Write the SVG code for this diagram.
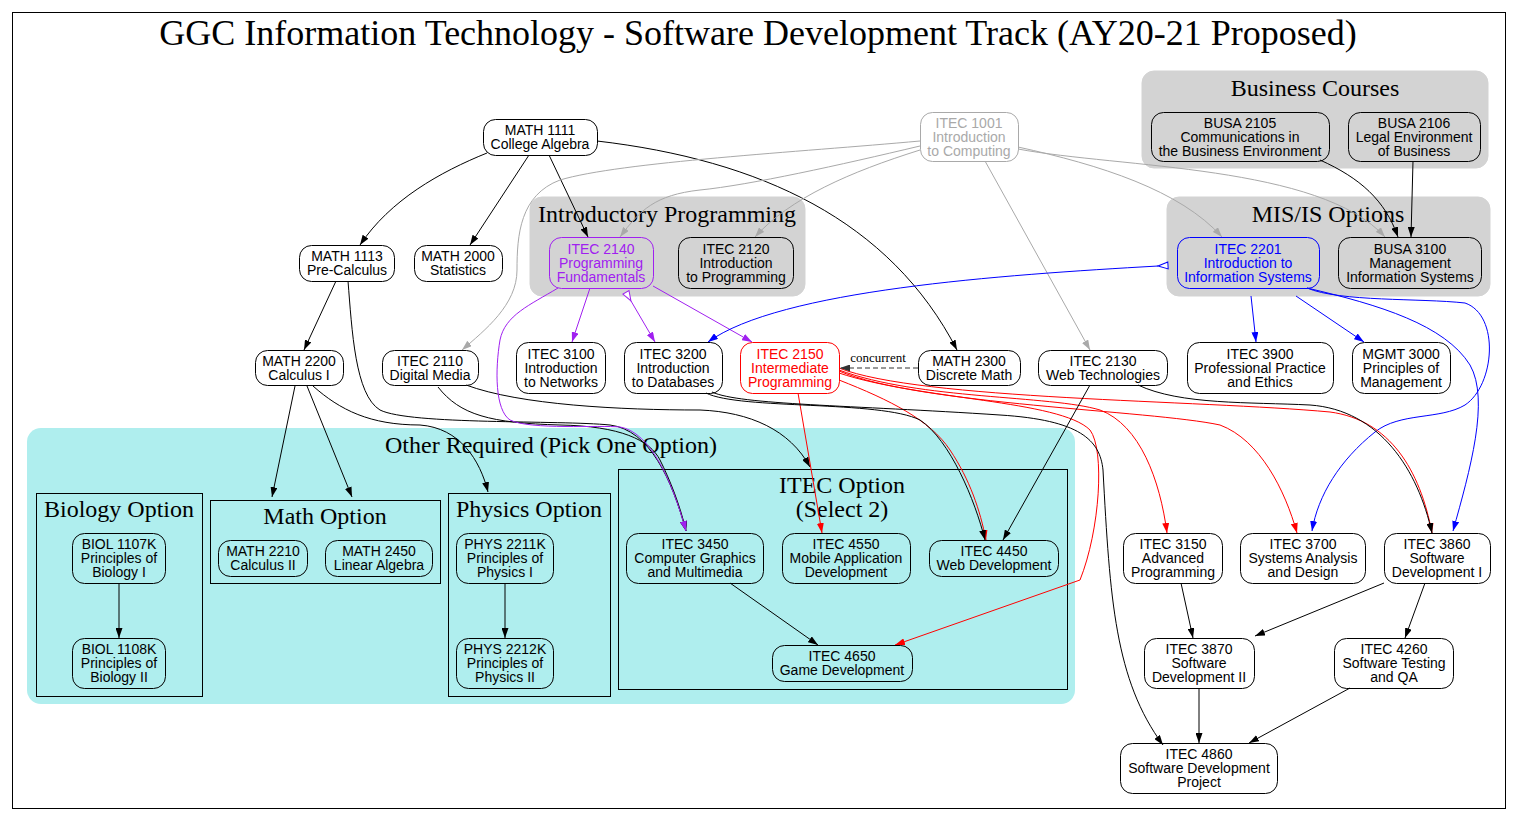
<svg xmlns="http://www.w3.org/2000/svg" width="1518" height="821" viewBox="0 0 1518 821">
<style>
.nt{font-family:"Liberation Sans",Arial,sans-serif;font-size:14px;text-anchor:middle;fill:#000}
.ct{font-family:"Liberation Serif","Times New Roman",serif;font-size:24px;text-anchor:middle;fill:#000}
.nb{fill:none;stroke:#000;stroke-width:1}
.gc{fill:#d3d3d3;stroke:#d3d3d3}
.sub{fill:none;stroke:#000;stroke-width:1}
.e{fill:none;stroke-width:1}
.k{stroke:#000;marker-end:url(#ak)}
.g{stroke:#a9a9a9;marker-end:url(#ag)}
.p{stroke:#a020f0;marker-end:url(#ap)}
.b{stroke:#0000ff;marker-end:url(#ab)}
.r{stroke:#ff0000;marker-end:url(#ar)}
</style>
<defs>
<marker id="ak" viewBox="0 0 10 7" refX="10" refY="3.5" markerWidth="10" markerHeight="7" markerUnits="userSpaceOnUse" orient="auto"><path d="M0,0 L10,3.5 L0,7 z" fill="#000"/></marker>
<marker id="ag" viewBox="0 0 10 7" refX="10" refY="3.5" markerWidth="10" markerHeight="7" markerUnits="userSpaceOnUse" orient="auto"><path d="M0,0 L10,3.5 L0,7 z" fill="#a9a9a9"/></marker>
<marker id="ap" viewBox="0 0 10 7" refX="10" refY="3.5" markerWidth="10" markerHeight="7" markerUnits="userSpaceOnUse" orient="auto"><path d="M0,0 L10,3.5 L0,7 z" fill="#a020f0"/></marker>
<marker id="ab" viewBox="0 0 10 7" refX="10" refY="3.5" markerWidth="10" markerHeight="7" markerUnits="userSpaceOnUse" orient="auto"><path d="M0,0 L10,3.5 L0,7 z" fill="#0000ff"/></marker>
<marker id="ar" viewBox="0 0 10 7" refX="10" refY="3.5" markerWidth="10" markerHeight="7" markerUnits="userSpaceOnUse" orient="auto"><path d="M0,0 L10,3.5 L0,7 z" fill="#ff0000"/></marker>
<marker id="ad" viewBox="0 0 10 7" refX="10" refY="3.5" markerWidth="10" markerHeight="7" markerUnits="userSpaceOnUse" orient="auto"><path d="M0,0 L10,3.5 L0,7 z" fill="#333"/></marker>
<marker id="hp" viewBox="-11 -4 12 8" refX="0" refY="0" markerWidth="12" markerHeight="8" markerUnits="userSpaceOnUse" orient="auto" overflow="visible"><path d="M0,0 L-10,-3.5 L-10,3.5 z" fill="#fff" stroke="#a020f0"/></marker>
<marker id="hb" viewBox="-11 -4 12 8" refX="0" refY="0" markerWidth="12" markerHeight="8" markerUnits="userSpaceOnUse" orient="auto" overflow="visible"><path d="M0,0 L-10,-3.5 L-10,3.5 z" fill="#fff" stroke="#0000ff"/></marker>
</defs>
<rect x="0" y="0" width="1518" height="821" fill="#fff"/>
<rect x="12.5" y="12.5" width="1493" height="796" fill="none" stroke="#000"/>
<text x="758" y="45" font-family="'Liberation Serif','Times New Roman',serif" font-size="36" text-anchor="middle">GGC Information Technology - Software Development Track (AY20-21 Proposed)</text>

<g id="clusters">
<g id="cluster-business"><rect class="gc" x="1142" y="71" width="346" height="97" rx="12"/><text class="ct" x="1315" y="96">Business Courses</text></g>
<g id="cluster-mis"><rect class="gc" x="1167" y="197" width="323" height="99" rx="12"/><text class="ct" x="1328" y="222">MIS/IS Options</text></g>
<g id="cluster-intro"><rect class="gc" x="530" y="197" width="275" height="99" rx="12"/><text class="ct" x="667" y="222">Introductory Programming</text></g>
<g id="cluster-other"><rect x="27" y="428" width="1048" height="276" rx="14" fill="#afeeee"/><text class="ct" x="551" y="453">Other Required (Pick One Option)</text>
<g id="cluster-bio"><rect class="sub" x="36.5" y="493.5" width="166" height="203"/><text class="ct" x="119" y="517">Biology Option</text></g>
<g id="cluster-math"><rect class="sub" x="210.5" y="500.5" width="230" height="83"/><text class="ct" x="325" y="524">Math Option</text></g>
<g id="cluster-phys"><rect class="sub" x="448.5" y="493.5" width="162" height="203"/><text class="ct" x="529" y="517">Physics Option</text></g>
<g id="cluster-itec"><rect class="sub" x="618.5" y="469.5" width="449" height="220"/><text class="ct" x="842" y="493">ITEC Option</text><text class="ct" x="842" y="517">(Select 2)</text></g>
</g>
</g>

<g id="connectors">
<path class="e k" d="M487,153 C440,172 390,200 360,245"/>
<path class="e k" d="M529,155 L470,245"/>
<path class="e k" d="M549,155 L588,237"/>
<path class="e k" d="M597,141 C760,160 890,220 957,350"/>
<path class="e g" d="M920,141 C800,152 620,162 560,180 C520,195 517,235 517,270 C517,305 485,330 462,350"/>
<path class="e g" d="M920,146 C840,165 750,185 700,190 C655,195 640,210 620,237"/>
<path class="e g" d="M920,150 C850,172 790,198 755,237"/>
<path class="e g" d="M985,161 L1090,350"/>
<path class="e g" d="M1018,147 C1100,165 1180,190 1222,237"/>
<path class="e g" d="M1018,149 C1120,168 1320,165 1385,237"/>
<path class="e k" d="M1320,160 C1360,178 1385,200 1398,237"/>
<path class="e k" d="M1413,161 L1411,237"/>
<path class="e k" d="M336,281 L304,350"/>
<path class="e k" d="M348,281 C352,330 355,395 380,410 C410,425 560,420 610,425 C650,430 672,480 686,531"/>
<path class="e k" d="M295,386 L272,497"/>
<path class="e k" d="M307,386 L352,497"/>
<path class="e k" d="M313,386 C340,410 370,425 420,425 C460,428 480,460 488,492"/>
<path class="e k" d="M438,387 C460,415 490,423 560,425 C620,426 650,440 660,460 C670,480 680,505 686,531"/>
<path class="e k" d="M466,385 C520,405 620,410 700,410 C750,412 790,430 810,467"/>
<path class="e p" d="M590,288 L572,342"/>
<path class="e p" d="M631,301 L655,342" marker-start="url(#hp)"/>
<path class="e p" d="M653,286 L752,342"/>
<path class="e p" d="M558,288 C530,305 505,315 500,340 C495,370 495,410 510,420 C530,430 600,425 620,427 C650,432 672,480 686,531"/>
<path class="e b" d="M1158,266 C1000,275 780,290 708,342" marker-start="url(#hb)"/>
<path class="e b" d="M1251,296 L1256,342"/>
<path class="e b" d="M1296,296 L1364,342"/>
<path class="e b" d="M1307,288 C1340,302 1420,298 1465,303 C1500,315 1495,385 1465,405 C1440,420 1400,412 1375,432 C1340,460 1318,495 1312,531"/>
<path class="e b" d="M1307,288 C1380,305 1445,325 1470,365 C1490,400 1470,470 1453,531"/>
<path class="e r" d="M798,393 L822,533"/>
<path class="e r" d="M839,380 C890,400 930,420 950,450 C970,480 980,510 986,540"/>
<path class="e r" d="M839,370 C920,400 1050,395 1100,410 C1140,425 1160,480 1167,533"/>
<path class="e r" d="M839,371 C920,405 1150,410 1220,425 C1260,440 1285,490 1297,533"/>
<path class="e r" d="M839,368 C920,400 1200,400 1330,412 C1390,420 1420,470 1432,533"/>
<path class="e r" d="M839,373 C920,400 1060,400 1090,430 C1105,450 1100,530 1080,580 L895,645"/>
<path class="e" stroke="#333" stroke-dasharray="5,3" marker-end="url(#ad)" d="M918,368 L840,368"/>
<text x="878" y="362" font-family="'Liberation Serif','Times New Roman',serif" font-size="13" text-anchor="middle">concurrent</text>
<path class="e k" d="M1090,385 L1003,540"/>
<path class="e k" d="M1138,385 C1180,405 1250,402 1310,405 C1380,410 1418,470 1432,533"/>
<path class="e k" d="M706,393 C740,410 880,400 920,420 C950,440 975,500 985,540"/>
<path class="e k" d="M712,392 C740,405 850,405 1000,415 C1080,420 1100,440 1103,470 C1110,600 1115,680 1163,745"/>
<path class="e k" d="M730,583 L818,645"/>
<path class="e k" d="M119,583 L119,638"/>
<path class="e k" d="M505,583 L505,638"/>
<path class="e k" d="M1181,583 L1193,638"/>
<path class="e k" d="M1384,583 L1255,636"/>
<path class="e k" d="M1425,583 L1405,638"/>
<path class="e k" d="M1199,688 L1199,743"/>
<path class="e k" d="M1350,688 L1249,743"/>
</g>

<g id="n-math1111"><rect class="nb" x="483.5" y="119.5" width="114" height="36" rx="12"/><text class="nt" x="540" y="135">MATH 1111</text><text class="nt" x="540" y="149">College Algebra</text></g>
<g id="n-itec1001"><rect x="920.5" y="112.5" width="98" height="49" rx="12" fill="none" stroke="#a9a9a9"/><text class="nt" x="969" y="128" style="fill:#a9a9a9">ITEC 1001</text><text class="nt" x="969" y="142" style="fill:#a9a9a9">Introduction</text><text class="nt" x="969" y="156" style="fill:#a9a9a9">to Computing</text></g>
<g id="n-busa2105"><rect class="nb" x="1151.5" y="112.5" width="178" height="49" rx="12"/><text class="nt" x="1240" y="128">BUSA 2105</text><text class="nt" x="1240" y="142">Communications in</text><text class="nt" x="1240" y="156">the Business Environment</text></g>
<g id="n-busa2106"><rect class="nb" x="1348.5" y="112.5" width="132" height="49" rx="12"/><text class="nt" x="1414" y="128">BUSA 2106</text><text class="nt" x="1414" y="142">Legal Environment</text><text class="nt" x="1414" y="156">of Business</text></g>

<g id="n-math1113"><rect class="nb" x="299.5" y="245.5" width="95" height="36" rx="12"/><text class="nt" x="347" y="261">MATH 1113</text><text class="nt" x="347" y="275">Pre-Calculus</text></g>
<g id="n-math2000"><rect class="nb" x="414.5" y="245.5" width="88" height="36" rx="12"/><text class="nt" x="458" y="261">MATH 2000</text><text class="nt" x="458" y="275">Statistics</text></g>
<g id="n-itec2140"><rect x="549.5" y="237.5" width="104" height="51" rx="12" fill="none" stroke="#a020f0"/><text class="nt" x="601" y="254" style="fill:#a020f0">ITEC 2140</text><text class="nt" x="601" y="268" style="fill:#a020f0">Programming</text><text class="nt" x="601" y="282" style="fill:#a020f0">Fundamentals</text></g>
<g id="n-itec2120"><rect class="nb" x="678.5" y="237.5" width="115" height="51" rx="12"/><text class="nt" x="736" y="254">ITEC 2120</text><text class="nt" x="736" y="268">Introduction</text><text class="nt" x="736" y="282">to Programming</text></g>
<g id="n-itec2201"><rect x="1177.5" y="237.5" width="142" height="51" rx="12" fill="none" stroke="#0000ff"/><text class="nt" x="1248" y="254" style="fill:#0000ff">ITEC 2201</text><text class="nt" x="1248" y="268" style="fill:#0000ff">Introduction to</text><text class="nt" x="1248" y="282" style="fill:#0000ff">Information Systems</text></g>
<g id="n-busa3100"><rect class="nb" x="1338.5" y="237.5" width="143" height="51" rx="12"/><text class="nt" x="1410" y="254">BUSA 3100</text><text class="nt" x="1410" y="268">Management</text><text class="nt" x="1410" y="282">Information Systems</text></g>

<g id="n-math2200"><rect class="nb" x="255.5" y="350.5" width="88" height="35" rx="12"/><text class="nt" x="299" y="366">MATH 2200</text><text class="nt" x="299" y="380">Calculus I</text></g>
<g id="n-itec2110"><rect class="nb" x="382.5" y="350.5" width="96" height="35" rx="12"/><text class="nt" x="430" y="366">ITEC 2110</text><text class="nt" x="430" y="380">Digital Media</text></g>
<g id="n-itec3100"><rect class="nb" x="516.5" y="342.5" width="89" height="51" rx="12"/><text class="nt" x="561" y="359">ITEC 3100</text><text class="nt" x="561" y="373">Introduction</text><text class="nt" x="561" y="387">to Networks</text></g>
<g id="n-itec3200"><rect class="nb" x="624.5" y="342.5" width="98" height="51" rx="12"/><text class="nt" x="673" y="359">ITEC 3200</text><text class="nt" x="673" y="373">Introduction</text><text class="nt" x="673" y="387">to Databases</text></g>
<g id="n-itec2150"><rect x="740.5" y="342.5" width="99" height="51" rx="12" fill="none" stroke="#ff0000"/><text class="nt" x="790" y="359" style="fill:#ff0000">ITEC 2150</text><text class="nt" x="790" y="373" style="fill:#ff0000">Intermediate</text><text class="nt" x="790" y="387" style="fill:#ff0000">Programming</text></g>
<g id="n-math2300"><rect class="nb" x="918.5" y="350.5" width="102" height="35" rx="12"/><text class="nt" x="969" y="366">MATH 2300</text><text class="nt" x="969" y="380">Discrete Math</text></g>
<g id="n-itec2130"><rect class="nb" x="1038.5" y="350.5" width="129" height="35" rx="12"/><text class="nt" x="1103" y="366">ITEC 2130</text><text class="nt" x="1103" y="380">Web Technologies</text></g>
<g id="n-itec3900"><rect class="nb" x="1187.5" y="342.5" width="146" height="51" rx="12"/><text class="nt" x="1260" y="359">ITEC 3900</text><text class="nt" x="1260" y="373">Professional Practice</text><text class="nt" x="1260" y="387">and Ethics</text></g>
<g id="n-mgmt3000"><rect class="nb" x="1352.5" y="342.5" width="98" height="51" rx="12"/><text class="nt" x="1401" y="359">MGMT 3000</text><text class="nt" x="1401" y="373">Principles of</text><text class="nt" x="1401" y="387">Management</text></g>

<g id="n-biol1107k"><rect class="nb" x="72.5" y="533.5" width="93" height="50" rx="12"/><text class="nt" x="119" y="549">BIOL 1107K</text><text class="nt" x="119" y="563">Principles of</text><text class="nt" x="119" y="577">Biology I</text></g>
<g id="n-biol1108k"><rect class="nb" x="72.5" y="638.5" width="93" height="50" rx="12"/><text class="nt" x="119" y="654">BIOL 1108K</text><text class="nt" x="119" y="668">Principles of</text><text class="nt" x="119" y="682">Biology II</text></g>
<g id="n-math2210"><rect class="nb" x="218.5" y="540.5" width="89" height="36" rx="12"/><text class="nt" x="263" y="556">MATH 2210</text><text class="nt" x="263" y="570">Calculus II</text></g>
<g id="n-math2450"><rect class="nb" x="325.5" y="540.5" width="107" height="36" rx="12"/><text class="nt" x="379" y="556">MATH 2450</text><text class="nt" x="379" y="570">Linear Algebra</text></g>
<g id="n-phys2211k"><rect class="nb" x="456.5" y="533.5" width="97" height="50" rx="12"/><text class="nt" x="505" y="549">PHYS 2211K</text><text class="nt" x="505" y="563">Principles of</text><text class="nt" x="505" y="577">Physics I</text></g>
<g id="n-phys2212k"><rect class="nb" x="456.5" y="638.5" width="97" height="50" rx="12"/><text class="nt" x="505" y="654">PHYS 2212K</text><text class="nt" x="505" y="668">Principles of</text><text class="nt" x="505" y="682">Physics II</text></g>
<g id="n-itec3450"><rect class="nb" x="626.5" y="533.5" width="137" height="50" rx="12"/><text class="nt" x="695" y="549">ITEC 3450</text><text class="nt" x="695" y="563">Computer Graphics</text><text class="nt" x="695" y="577">and Multimedia</text></g>
<g id="n-itec4550"><rect class="nb" x="782.5" y="533.5" width="128" height="50" rx="12"/><text class="nt" x="846" y="549">ITEC 4550</text><text class="nt" x="846" y="563">Mobile Application</text><text class="nt" x="846" y="577">Development</text></g>
<g id="n-itec4450"><rect class="nb" x="929.5" y="540.5" width="129" height="36" rx="12"/><text class="nt" x="994" y="556">ITEC 4450</text><text class="nt" x="994" y="570">Web Development</text></g>
<g id="n-itec4650"><rect class="nb" x="772.5" y="645.5" width="140" height="36" rx="12"/><text class="nt" x="842" y="661">ITEC 4650</text><text class="nt" x="842" y="675">Game Development</text></g>
<g id="n-itec3150"><rect class="nb" x="1123.5" y="533.5" width="99" height="50" rx="12"/><text class="nt" x="1173" y="549">ITEC 3150</text><text class="nt" x="1173" y="563">Advanced</text><text class="nt" x="1173" y="577">Programming</text></g>
<g id="n-itec3700"><rect class="nb" x="1240.5" y="533.5" width="125" height="50" rx="12"/><text class="nt" x="1303" y="549">ITEC 3700</text><text class="nt" x="1303" y="563">Systems Analysis</text><text class="nt" x="1303" y="577">and Design</text></g>
<g id="n-itec3860"><rect class="nb" x="1384.5" y="533.5" width="106" height="50" rx="12"/><text class="nt" x="1437" y="549">ITEC 3860</text><text class="nt" x="1437" y="563">Software</text><text class="nt" x="1437" y="577">Development I</text></g>
<g id="n-itec3870"><rect class="nb" x="1144.5" y="638.5" width="110" height="50" rx="12"/><text class="nt" x="1199" y="654">ITEC 3870</text><text class="nt" x="1199" y="668">Software</text><text class="nt" x="1199" y="682">Development II</text></g>
<g id="n-itec4260"><rect class="nb" x="1334.5" y="638.5" width="119" height="50" rx="12"/><text class="nt" x="1394" y="654">ITEC 4260</text><text class="nt" x="1394" y="668">Software Testing</text><text class="nt" x="1394" y="682">and QA</text></g>
<g id="n-itec4860"><rect class="nb" x="1120.5" y="743.5" width="157" height="50" rx="12"/><text class="nt" x="1199" y="759">ITEC 4860</text><text class="nt" x="1199" y="773">Software Development</text><text class="nt" x="1199" y="787">Project</text></g>
</svg>
